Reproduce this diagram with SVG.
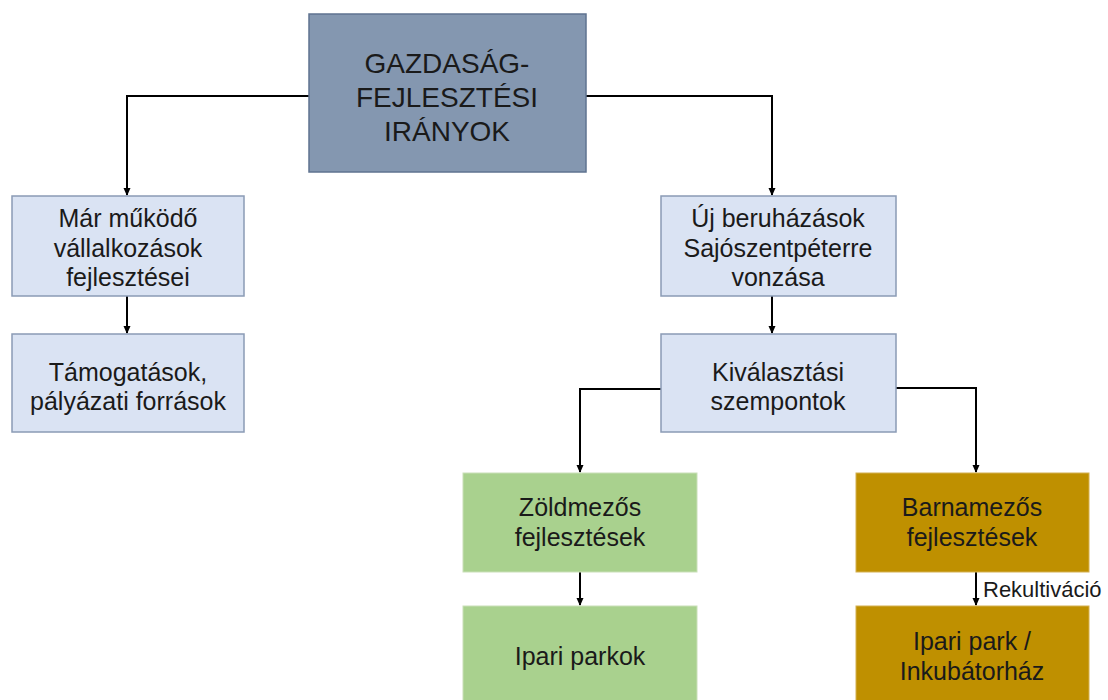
<svg xmlns="http://www.w3.org/2000/svg" width="1108" height="700" viewBox="0 0 1108 700">
<defs>
<marker id="arr" markerWidth="8" markerHeight="8" refX="7" refY="4" orient="auto" markerUnits="userSpaceOnUse">
<path d="M0,0.5 L8,4 L0,7.5 Z" fill="#000"/>
</marker>
<style>
text{font-family:"Liberation Sans",Arial,sans-serif;fill:#1a1a1a;text-anchor:middle}
.t{font-size:25px}
.h{font-size:28px}
.blue{fill:#dae3f3;stroke:#8a9bb5;stroke-width:1.5}
.dark{fill:#8497b0;stroke:#5f7390;stroke-width:1.5}
.green{fill:#a9d18e;stroke:#c9dfb8;stroke-width:1}
.brown{fill:#bf9000;stroke:#d4b050;stroke-width:1}
.c{fill:none;stroke:#000;stroke-width:2;marker-end:url(#arr)}
</style>
</defs>
<rect width="1108" height="700" fill="#fff"/>
<g id="connectors">
<path class="c" d="M309,96 H127 V195"/>
<path class="c" d="M586,96 H772 V195"/>
<path class="c" d="M127,296 V333"/>
<path class="c" d="M772,296 V333"/>
<path class="c" d="M661,389 H580 V472"/>
<path class="c" d="M896,388 H976 V472"/>
<path class="c" d="M580,572 V605"/>
<path class="c" d="M976,572 V605"/>
<text x="983" y="597" style="font-size:22px;text-anchor:start">Rekultiváció</text>
</g>
<g id="n_top">
<rect class="dark" x="309" y="14" width="277" height="158"/>
<text class="h" x="447" y="73">GAZDASÁG-</text>
<text class="h" x="447" y="107">FEJLESZTÉSI</text>
<text class="h" x="447" y="141">IRÁNYOK</text>
</g>
<g id="n_mar">
<rect class="blue" x="12" y="196" width="232" height="100"/>
<text class="t" x="128" y="227">Már működő</text>
<text class="t" x="128" y="257">vállalkozások</text>
<text class="t" x="128" y="286">fejlesztései</text>
</g>
<g id="n_tam">
<rect class="blue" x="12" y="334" width="232" height="98"/>
<text class="t" x="128" y="381">Támogatások,</text>
<text class="t" x="128" y="410">pályázati források</text>
</g>
<g id="n_uj">
<rect class="blue" x="661" y="196" width="235" height="100"/>
<text class="t" x="778" y="227">Új beruházások</text>
<text class="t" x="778" y="257">Sajószentpéterre</text>
<text class="t" x="778" y="286">vonzása</text>
</g>
<g id="n_kiv">
<rect class="blue" x="661" y="334" width="235" height="98"/>
<text class="t" x="778" y="381">Kiválasztási</text>
<text class="t" x="778" y="410">szempontok</text>
</g>
<g id="n_zold">
<rect class="green" x="463" y="473" width="234" height="99"/>
<text class="t" x="580" y="516">Zöldmezős</text>
<text class="t" x="580" y="546">fejlesztések</text>
</g>
<g id="n_ipari">
<rect class="green" x="463" y="606" width="234" height="100"/>
<text class="t" x="580" y="665">Ipari parkok</text>
</g>
<g id="n_barna">
<rect class="brown" x="856" y="473" width="233" height="99"/>
<text class="t" x="972" y="516">Barnamezős</text>
<text class="t" x="972" y="546">fejlesztések</text>
</g>
<g id="n_inkub">
<rect class="brown" x="856" y="606" width="233" height="100"/>
<text class="t" x="972" y="650">Ipari park /</text>
<text class="t" x="972" y="680">Inkubátorház</text>
</g>
</svg>
